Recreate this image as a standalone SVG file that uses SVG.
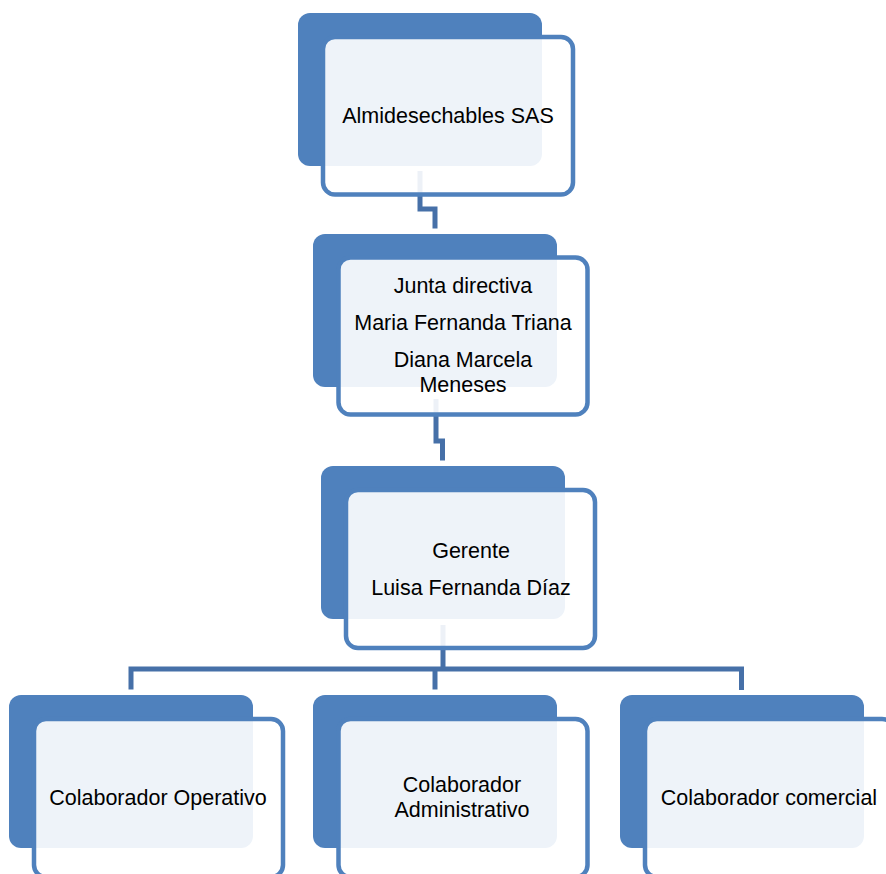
<svg xmlns="http://www.w3.org/2000/svg" width="886" height="874" viewBox="0 0 886 874">
<style>
.back{fill:#4f81bd;}
.front{fill:#ffffff;fill-opacity:0.9;stroke:#4f81bd;stroke-width:4.5;}
.conn{fill:none;stroke:#4670a8;stroke-width:5;stroke-linejoin:miter;}
.lbl{font-family:"Liberation Sans",Arial,sans-serif;font-size:21.5px;fill:#000;text-anchor:middle;}
</style>
<rect width="886" height="874" fill="#ffffff"/>
<g id="connectors">
<path class="conn" d="M420,171 V209 H435 V228.5"/>
<path class="conn" d="M436,399 V441 H442.5 V460.5"/>
<path class="conn" d="M443,625 V669"/>
<path class="conn" d="M131,689.5 V669 H741.5 V690"/>
<path class="conn" d="M435,669 V689.5"/>
</g>
<g id="node-almidesechables">
<rect class="back" x="298" y="13" width="244" height="153" rx="12"/>
<rect class="front" x="323" y="37" width="250" height="157.5" rx="12"/>
<text class="lbl" x="448" y="123">Almidesechables SAS</text>
</g>
<g id="node-junta">
<rect class="back" x="313" y="234" width="244" height="153" rx="12"/>
<rect class="front" x="338.5" y="257.5" width="249" height="157" rx="12"/>
<text class="lbl" x="463" y="293">Junta directiva</text>
<text class="lbl" x="463" y="330">Maria Fernanda Triana</text>
<text class="lbl" x="463" y="367">Diana Marcela</text>
<text class="lbl" x="463" y="392">Meneses</text>
</g>
<g id="node-gerente">
<rect class="back" x="321" y="466" width="244" height="153" rx="12"/>
<rect class="front" x="346" y="490" width="249" height="158" rx="12"/>
<text class="lbl" x="471" y="558">Gerente</text>
<text class="lbl" x="471" y="595">Luisa Fernanda Díaz</text>
</g>
<g id="node-operativo">
<rect class="back" x="9" y="695" width="244" height="153" rx="12"/>
<rect class="front" x="34" y="719" width="249" height="158" rx="12"/>
<text class="lbl" x="158" y="805">Colaborador Operativo</text>
</g>
<g id="node-administrativo">
<rect class="back" x="313" y="695" width="244" height="153" rx="12"/>
<rect class="front" x="338.5" y="719" width="249" height="158" rx="12"/>
<text class="lbl" x="462" y="792">Colaborador</text>
<text class="lbl" x="462" y="817">Administrativo</text>
</g>
<g id="node-comercial">
<rect class="back" x="620" y="695" width="244" height="153" rx="12"/>
<rect class="front" x="645" y="719" width="249" height="158" rx="12"/>
<text class="lbl" x="769" y="805">Colaborador comercial</text>
</g>
</svg>
